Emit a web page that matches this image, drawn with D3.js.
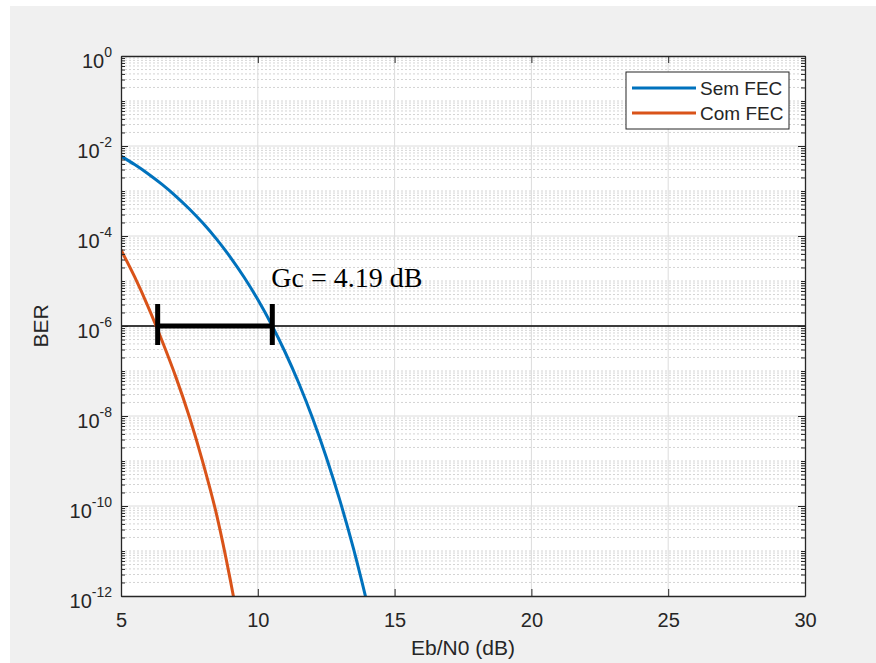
<!DOCTYPE html>
<html>
<head>
<meta charset="utf-8">
<script src="https://cdn.jsdelivr.net/npm/d3@7"></script>
<style>
  body { margin: 0; background: #fff; }
  svg { display: block; font-family: "Liberation Sans", Arial, Helvetica, sans-serif; }
</style>
</head>
<body>
<svg width="876" height="663"></svg>
<script>
// values
const semFecX = [5, 5.5, 6, 6.5, 7, 7.5, 8, 8.5, 9, 9.5, 10, 10.5, 11, 11.5, 12, 12.5, 13, 13.5, 14];
const semFecBer = [5.95e-3, 3.86e-3, 2.39e-3, 1.4e-3, 7.73e-4, 3.99e-4, 1.91e-4, 8.4e-5, 3.36e-5,
  1.21e-5, 3.87e-6, 1.08e-6, 2.61e-7, 5.33e-8, 9.0e-9, 1.23e-9, 1.33e-10, 1.11e-11, 6.8e-13];
const comFecX = [5, 5.5, 6, 6.5, 7, 7.5, 8, 8.5, 9, 9.2];
const comFecBer = [4.9e-5, 1.23e-5, 2.6e-6, 4.7e-7, 7.5e-8, 9.5e-9, 9.0e-10, 6.2e-11, 2.2e-12, 5e-13];

const seriesNames = ["Sem FEC", "Com FEC"];
const seriesColors = ["#0072BD", "#D95319"];

const xTicks = [5, 10, 15, 20, 25, 30];
const yTicks = [1e-12, 1e-10, 1e-8, 1e-6, 1e-4, 1e-2, 1];

const refBer = 1e-6;
const gcStart = 6.34;
const gcEnd = 10.53;
const gcLabel = "Gc = 4.19 dB";

const w = 876;
const h = 663;
const m = { l: 121, r: 805, t: 56, b: 596 };
const axColor = "#262626";

const svg = d3.select("svg");

// figure background
svg.append("rect")
  .attr("x", 10).attr("y", 6)
  .attr("width", w - 10).attr("height", h - 6)
  .attr("fill", "#f0f0f0");

svg.append("rect")
  .attr("x", m.l).attr("y", m.t)
  .attr("width", m.r - m.l).attr("height", m.b - m.t)
  .attr("fill", "#fff");

const x = d3.scaleLinear().domain([5, 30]).range([m.l, m.r]);
const y = d3.scaleLog().domain([1e-12, 1]).range([m.b, m.t]);

// minor y values: every m*10^k that is not a labelled tick
const minorY = d3.range(-12, 0).flatMap((k) =>
  d3.range(1, 10)
    .filter((mm) => !(mm === 1 && k % 2 === 0))
    .map((mm) => mm * Math.pow(10, k)),
);

// grid
const grid = svg.append("g");
grid.selectAll(".minor")
  .data(minorY)
  .enter()
  .append("line")
  .attr("x1", m.l).attr("x2", m.r)
  .attr("y1", (d) => y(d)).attr("y2", (d) => y(d))
  .attr("stroke", "#d4d4d4")
  .attr("stroke-dasharray", "2,2");

grid.selectAll(".majy")
  .data(yTicks.slice(1, -1))
  .enter()
  .append("line")
  .attr("x1", m.l).attr("x2", m.r)
  .attr("y1", (d) => y(d)).attr("y2", (d) => y(d))
  .attr("stroke", "#dcdcdc");

grid.selectAll(".majx")
  .data(xTicks.slice(1, -1))
  .enter()
  .append("line")
  .attr("y1", m.t).attr("y2", m.b)
  .attr("x1", (d) => x(d)).attr("x2", (d) => x(d))
  .attr("stroke", "#dcdcdc");

// curves
svg.append("clipPath").attr("id", "plot")
  .append("rect")
  .attr("x", m.l).attr("y", m.t)
  .attr("width", m.r - m.l).attr("height", m.b - m.t);

const line = d3.line()
  .x((d) => x(d[0]))
  .y((d) => y(d[1]))
  .curve(d3.curveMonotoneX);

const series = [
  d3.zip(semFecX, semFecBer),
  d3.zip(comFecX, comFecBer),
];

const plot = svg.append("g").attr("clip-path", "url(#plot)");

// reference line at BER = 1e-6
plot.append("line")
  .attr("x1", m.l).attr("x2", m.r)
  .attr("y1", y(refBer)).attr("y2", y(refBer))
  .attr("stroke", "#000")
  .attr("stroke-width", 1.6);

plot.selectAll(".curve")
  .data(series)
  .enter()
  .append("path")
  .attr("d", line)
  .attr("fill", "none")
  .attr("stroke", (d, i) => seriesColors[i])
  .attr("stroke-width", 3);

// coding gain bar
const bar = svg.append("g").attr("stroke", "#000").attr("stroke-width", 5);
bar.append("line")
  .attr("x1", x(gcStart)).attr("x2", x(gcEnd))
  .attr("y1", y(refBer)).attr("y2", y(refBer));
[gcStart, gcEnd].forEach((v) => {
  bar.append("line")
    .attr("x1", x(v)).attr("x2", x(v))
    .attr("y1", y(refBer) - 22).attr("y2", y(refBer) + 19);
});

svg.append("text")
  .attr("x", x(gcEnd) - 1)
  .attr("y", y(refBer) - 39)
  .attr("font-family", "'Liberation Serif', 'Times New Roman', serif")
  .attr("font-size", 28)
  .attr("fill", "#000")
  .text(gcLabel);

// axes
function styleAxis(g) {
  g.attr("font-size", 20).attr("font-family", null).style("color", axColor);
  g.selectAll(".domain").attr("stroke-width", 1.3);
}

svg.append("g")
  .attr("transform", `translate(0,${m.b})`)
  .call(d3.axisBottom(x).tickValues(xTicks).tickSizeInner(-7).tickSizeOuter(0).tickPadding(17))
  .call(styleAxis);

svg.append("g")
  .attr("transform", `translate(0,${m.t})`)
  .call(d3.axisTop(x).tickValues(xTicks).tickSizeInner(-7).tickSizeOuter(0).tickFormat(""))
  .call(styleAxis);

const yLeft = svg.append("g")
  .attr("transform", `translate(${m.l},0)`)
  .call(d3.axisLeft(y).tickValues(yTicks).tickSizeInner(-7).tickSizeOuter(0).tickPadding(9))
  .call(styleAxis);

yLeft.selectAll(".tick text").each(function (d) {
  const t = d3.select(this);
  t.text(null).attr("dy", 11);
  t.append("tspan").text("10");
  t.append("tspan")
    .attr("dy", -11)
    .attr("font-size", 14)
    .text(Math.round(Math.log10(d)));
});

svg.append("g")
  .attr("transform", `translate(${m.r},0)`)
  .call(d3.axisRight(y).tickValues(yTicks).tickSizeInner(-7).tickSizeOuter(0).tickFormat(""))
  .call(styleAxis);

// minor ticks on both sides
[[m.l, d3.axisLeft], [m.r, d3.axisRight]].forEach(([pos, ax]) => {
  svg.append("g")
    .attr("transform", `translate(${pos},0)`)
    .call(ax(y).tickValues(minorY).tickSizeInner(-4).tickSizeOuter(0).tickFormat(""))
    .call(styleAxis)
    .call((g) => g.select(".domain").remove());
});

// axis labels
svg.append("text")
  .attr("x", (m.l + m.r) / 2)
  .attr("y", 655)
  .attr("text-anchor", "middle")
  .attr("font-size", 21)
  .attr("fill", axColor)
  .text("Eb/N0 (dB)");

svg.append("text")
  .attr("transform", `translate(48,${(m.t + m.b) / 2}) rotate(-90)`)
  .attr("text-anchor", "middle")
  .attr("font-size", 21)
  .attr("fill", axColor)
  .text("BER");

// legend
const legend = svg.append("g").attr("transform", "translate(626,72)");
legend.append("rect")
  .attr("width", 163).attr("height", 57)
  .attr("fill", "#fff")
  .attr("stroke", axColor)
  .attr("stroke-width", 1);

const items = legend.selectAll(".item")
  .data(seriesNames)
  .enter()
  .append("g")
  .attr("transform", (d, i) => `translate(0,${16 + i * 25})`);

items.append("line")
  .attr("x1", 6).attr("x2", 70)
  .attr("stroke", (d, i) => seriesColors[i])
  .attr("stroke-width", 3);

items.append("text")
  .attr("x", 74)
  .attr("y", 7)
  .attr("font-size", 19)
  .attr("fill", axColor)
  .text((d) => d);
</script>
</body>
</html>
